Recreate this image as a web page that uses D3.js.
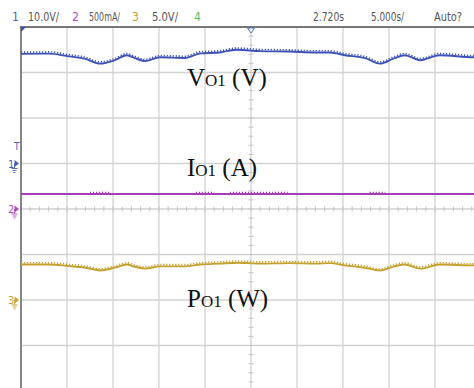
<!DOCTYPE html>
<html><head><meta charset="utf-8">
<script src="https://cdn.jsdelivr.net/npm/d3@7"></script>
<style>body{margin:0;background:#fff}svg{display:block}</style>
</head><body><svg id="c" width="474" height="388"></svg>
<script>
// ---- data ----
const timeDomain = [-25, 25];             // seconds (5 s/div, 10 div)
const timeTicks = [-25,-20,-15,-10,-5,0,5,10,15,20,25];
const divTicks = [-4,-3,-2,-1,0,1,2,3,4];  // vertical divisions from centre
const headerLabels = [
  {t:"1", x:12, w:0, c:"#4a5fc1"}, {t:"10.0V/", x:28, w:31, c:"#555"},
  {t:"2", x:72, w:0, c:"#b04cc0"}, {t:"500mA/", x:89, w:31, c:"#555"},
  {t:"3", x:132, w:0, c:"#c9a033"}, {t:"5.0V/", x:152, w:26, c:"#555"},
  {t:"4", x:194, w:0, c:"#5cb85c"},
  {t:"2.720s", x:313, w:31, c:"#555"}, {t:"5.000s/", x:371, w:33, c:"#555"}, {t:"Auto?", x:434, w:28, c:"#555"}
];
// Channel 1: output voltage (V)
const vTime = [-25,-21.9,-20,-18,-16.4,-14.8,-13.5,-12.6,-11.5,-9.9,-7.2,-5.5,-3.4,-1.5,1.0,4.2,7.0,8.6,10.2,12.4,14.0,15.6,16.7,18.4,20.5,24.2,25];
const vVal  = [24.1,24.15,23.6,23.0,21.95,22.7,23.8,23.15,22.5,23.35,23.2,24.2,24.4,25.0,24.7,24.6,24.4,24.4,23.8,23.15,21.95,23.15,23.8,22.7,23.8,23.35,23.35];
// Channel 2: output current (A)
const iTime = [-25, 25];
const iVal  = [0.165, 0.165];
const iRippleSegs = [[-17.5,-15.3],[-6.0,-4.0],[-2.3,4.0],[12.9,14.6]];
// Channel 3: output power (W)
const pTime = [-25,-21.9,-20,-18,-16.4,-14.8,-13.5,-12.6,-11.5,-9.9,-7.2,-5.5,-3.4,-1.5,1.0,4.2,7.0,8.6,10.2,12.4,14.0,15.6,16.7,18.4,20.5,24.2,25];
const pVal  = [3.9,3.9,3.75,3.55,3.25,3.55,3.9,3.65,3.45,3.7,3.7,3.9,4.0,4.1,4.0,4.05,4.0,4.05,3.8,3.55,3.25,3.7,3.9,3.45,3.9,3.8,3.8];
const traceLabels = [
  {main:"V", sub:"O1", unit:" (V)", y:86},
  {main:"I", sub:"O1", unit:" (A)", y:176},
  {main:"P", sub:"O1", unit:" (W)", y:307}
];

// ---- layout ----
const svg = d3.select("#c");
const L = 21, T = 27, DIV = 45.5;
const x = d3.scaleLinear().domain(timeDomain).range([L, L + 10*46]);
const yDiv = d3.scaleLinear().domain([-4, 4]).range([T + 8*DIV, T]);
const yV = d3.scaleLinear().domain([0, 10]).range([yDiv(1), yDiv(2)]);
const yI = d3.scaleLinear().domain([0, 0.5]).range([yDiv(0), yDiv(1)]);
const yP = d3.scaleLinear().domain([0, 5]).range([yDiv(-2), yDiv(-1)]);

// grid
const g = svg.append("g");
g.selectAll("line.v").data(timeTicks).join("line")
  .attr("x1", d=>x(d)).attr("x2", d=>x(d)).attr("y1", T).attr("y2", 388)
  .attr("stroke", "#d2d2d2").attr("stroke-width", 1.3);
g.selectAll("line.h").data(divTicks).join("line")
  .attr("x1", L).attr("x2", 474).attr("y1", d=>yDiv(d)).attr("y2", d=>yDiv(d))
  .attr("stroke", "#d2d2d2").attr("stroke-width", 1.3);
// minor ticks on centre axes
const minorX = d3.range(timeDomain[0], timeDomain[1] + 0.01, 1);
g.selectAll("line.mx").data(minorX).join("line")
  .attr("x1", d=>x(d)).attr("x2", d=>x(d))
  .attr("y1", yDiv(0) - 2.5).attr("y2", yDiv(0) + 2.5)
  .attr("stroke", "#c4c4c4");
const minorY = d3.range(-4, 4.01, 0.2);
g.selectAll("line.my").data(minorY).join("line")
  .attr("y1", d=>yDiv(d)).attr("y2", d=>yDiv(d))
  .attr("x1", x(0) - 2.5).attr("x2", x(0) + 2.5)
  .attr("stroke", "#c4c4c4");
// frame
g.append("line").attr("x1", L - 1).attr("x2", 474).attr("y1", T).attr("y2", T).attr("stroke", "#555").attr("stroke-width", 1.5);
g.append("line").attr("x1", L).attr("x2", L).attr("y1", T).attr("y2", 388).attr("stroke", "#666").attr("stroke-width", 1.5);

// header
svg.append("g").selectAll("text").data(headerLabels).join("text")
  .attr("x", d=>d.x).attr("y", 21).attr("fill", d=>d.c)
  .attr("font-family", "DejaVu Sans Condensed, DejaVu Sans").attr("font-stretch", "condensed")
  .attr("font-size", 12)
  .each(function(d){ if (d.w) d3.select(this).attr("textLength", d.w).attr("lengthAdjust", "spacingAndGlyphs"); })
  .text(d=>d.t);

// trigger markers
svg.append("path").attr("d", `M${L},${T}L${L+5},${T}L${L},${T+5}Z`).attr("fill", "#3a4fb5");
svg.append("path").attr("d", `M${x(0)-3.5},${T+1}L${x(0)+3.5},${T+1}L${x(0)},${T+6}Z`)
  .attr("fill", "#fff").attr("stroke", "#4a6fd0").attr("stroke-width", 1);

// ground markers
function gnd(yy, label, col) {
  const m = svg.append("g").attr("fill", col).attr("stroke", col);
  m.append("text").attr("x", 8).attr("y", yy + 4).attr("stroke", "none")
    .attr("font-family", "DejaVu Sans Condensed, DejaVu Sans").attr("font-size", 11).text(label);
  m.append("path").attr("d", `M14.5,${yy-3.5}L19,${yy}L14.5,${yy+3.5}Z`).attr("stroke", "none");
  m.append("path").attr("fill", "none").attr("stroke-width", 0.9)
    .attr("d", `M14.5,${yy}V${yy+5}M11.5,${yy+5}H17.5M12.5,${yy+7}H16.5M13.5,${yy+9}H15.5`);
}
gnd(yV(0), "1", "#4a5fc1");
gnd(yI(0), "2", "#b04cc0");
gnd(yP(0), "3", "#c9a033");
svg.append("text").attr("x", 14).attr("y", 150).attr("fill", "#4a5fc1")
  .attr("font-family", "DejaVu Sans Condensed, DejaVu Sans").attr("font-size", 10).text("T");

// traces
const clip = svg.append("defs").append("clipPath").attr("id", "cp");
clip.append("rect").attr("x", L).attr("y", T).attr("width", 474 - L).attr("height", 388 - T);
const tr = svg.append("g").attr("clip-path", "url(#cp)");
function trace(times, vals, ys, col) {
  const pts = times.map((t, i) => [x(t), ys(vals[i])]);
  const line = d3.line().curve(d3.curveMonotoneX);
  tr.append("path").attr("d", line(pts)).attr("fill", "none").attr("stroke", col).attr("stroke-width", 1.9);
  tr.append("path").attr("d", line(pts)).attr("fill", "none").attr("stroke", col)
    .attr("stroke-width", 1.6).attr("stroke-dasharray", "1.2 1.8").attr("transform", "translate(0,-1.7)");
}
trace(vTime, vVal, yV, "#3d52b8");
trace(pTime, pVal, yP, "#c4a02c");
const iPts = iTime.map((t, i) => [x(t), yI(iVal[i])]);
tr.append("path").attr("d", d3.line()(iPts)).attr("fill", "none").attr("stroke", "#a53db5").attr("stroke-width", 2);
tr.selectAll("line.ir").data(iRippleSegs).join("line")
  .attr("x1", d=>x(d[0])).attr("x2", d=>x(d[1]))
  .attr("y1", yI(iVal[0]) - 1.6).attr("y2", yI(iVal[0]) - 1.6)
  .attr("stroke", "#a53db5").attr("stroke-width", 1.4).attr("stroke-dasharray", "1.2 1.8");

// trace labels
const lab = svg.append("g").attr("font-family", "Liberation Serif, Times New Roman, serif").attr("fill", "#111");
traceLabels.forEach(d => {
  const t = lab.append("text").attr("x", 187).attr("y", d.y).attr("font-size", 25);
  t.append("tspan").text(d.main);
  t.append("tspan").attr("font-size", 17).text(d.sub);
  t.append("tspan").text(d.unit);
});
</script></body></html>
